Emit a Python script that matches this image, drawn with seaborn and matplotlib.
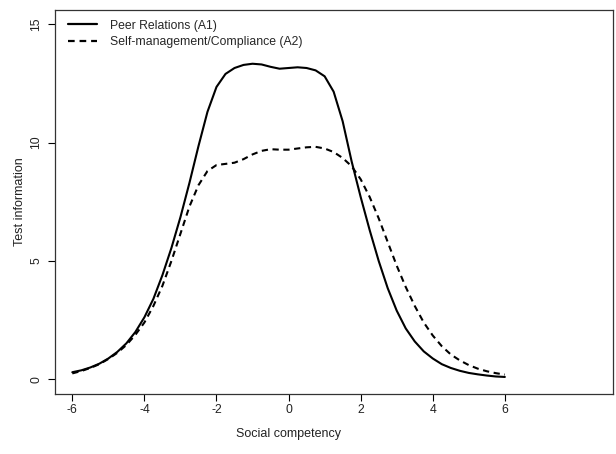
import numpy as np
import pandas as pd
import seaborn as sns
import matplotlib.pyplot as plt

# social competency grid and test information
theta = [-6, -5.75, -5.5, -5.25, -5, -4.75, -4.5, -4.25, -4, -3.75, -3.5, -3.25,
         -3, -2.75, -2.5, -2.25, -2, -1.75, -1.5, -1.25, -1, -0.75, -0.5, -0.25,
         0, 0.25, 0.5, 0.75, 1, 1.25, 1.5, 1.75, 2, 2.25, 2.5, 2.75, 3, 3.25,
         3.5, 3.75, 4, 4.25, 4.5, 4.75, 5, 5.25, 5.5, 5.75, 6]

peer = [0.30, 0.38, 0.50, 0.66, 0.88, 1.16, 1.52, 2.00, 2.62, 3.40, 4.40, 5.55,
        6.85, 8.30, 9.85, 11.30, 12.35, 12.90, 13.15, 13.28, 13.33, 13.30, 13.20, 13.12,
        13.15, 13.18, 13.15, 13.05, 12.80, 12.15, 10.90, 9.20, 7.70, 6.30, 5.00, 3.85,
        2.90, 2.15, 1.60, 1.18, 0.88, 0.64, 0.48, 0.36, 0.27, 0.21, 0.16, 0.12, 0.10]

selfman = [0.25, 0.35, 0.48, 0.64, 0.86, 1.12, 1.45, 1.88, 2.40, 3.10, 3.95, 5.00,
           6.15, 7.30, 8.20, 8.80, 9.05, 9.10, 9.15, 9.30, 9.50, 9.65, 9.72, 9.70,
           9.70, 9.75, 9.80, 9.82, 9.75, 9.60, 9.35, 9.00, 8.45, 7.70, 6.80, 5.80,
           4.80, 3.90, 3.10, 2.40, 1.85, 1.40, 1.05, 0.80, 0.60, 0.45, 0.34, 0.26, 0.20]

labels = ["Peer Relations (A1)", "Self-management/Compliance (A2)"]

df = pd.concat([
    pd.DataFrame({"theta": theta, "info": peer, "scale": labels[0]}),
    pd.DataFrame({"theta": theta, "info": selfman, "scale": labels[1]}),
])

sns.set_theme(style="white")
plt.rcParams["font.family"] = ["Liberation Sans", "DejaVu Sans"]
plt.rcParams["axes.unicode_minus"] = False

fig = plt.figure(figsize=(6.16, 4.54), dpi=100)
ax = fig.add_axes([55 / 616, 1 - 394 / 454, (613 - 55) / 616, (394 - 10) / 454])

sns.lineplot(data=df, x="theta", y="info", style="scale",
             dashes={labels[0]: "", labels[1]: (3, 2.2)},
             color="black", linewidth=1.5, ax=ax, legend=False)

ax.plot([], [], color="black", lw=1.6, label=labels[0])
ax.plot([], [], color="black", lw=1.6, ls=(0, (3, 2.2)), label=labels[1])
ax.legend(loc="upper left", frameon=False, fontsize=8.8, handlelength=2.4,
          borderaxespad=0.4, labelspacing=0.35, handletextpad=1.1,
          bbox_to_anchor=(0.005, 1.0))

ax.set_xlim(-6.48, 9.0)
ax.set_ylim(-0.62, 15.6)
ax.set_xticks([-6, -4, -2, 0, 2, 4, 6])
ax.set_yticks([0, 5, 10, 15])
for lbl in ax.get_yticklabels():
    lbl.set_rotation(90)
    lbl.set_va("center")

ax.tick_params(axis="both", direction="out", length=5, width=0.8,
               color="black", labelsize=8.8, labelcolor="#222222",
               bottom=True, left=True)
ax.tick_params(axis="x", pad=2.5)
ax.tick_params(axis="y", pad=4)
for s in ax.spines.values():
    s.set_color("#333333")
    s.set_linewidth(0.9)

ax.set_xlabel("Social competency", fontsize=9, color="#222222")
ax.set_ylabel("Test information", fontsize=9, color="#222222", labelpad=3)
# label centred under the plotted range, like the original
ax.xaxis.set_label_coords((0 + 6.48) / (9.0 + 6.48), -0.103)
ax.xaxis.label.set_va("center")

fig.savefig("out.png", dpi=100)
